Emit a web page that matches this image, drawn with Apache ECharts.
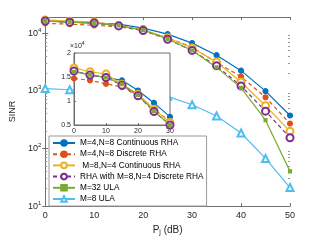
<!DOCTYPE html>
<html><head><meta charset="utf-8">
<script src="https://cdn.jsdelivr.net/npm/echarts@6/dist/echarts.min.js"></script>
<style>html,body{margin:0;padding:0;background:#fff}#c{width:321px;height:241px}</style>
</head><body><div id="c"></div>
<script>
var pj = [0, 5, 10, 15, 20, 25, 30, 35, 40, 45, 50];
var cont48 = [16250, 15400, 14900, 14300, 12200, 9600, 6700, 4140, 2230, 985, 373];
var disc48 = [14700, 14300, 13600, 12900, 11100, 8300, 5700, 3080, 1760, 771, 270];
var cont84 = [16900, 16100, 15600, 13500, 11400, 8300, 5500, 3160, 1420, 550, 198];
var disc84 = [16250, 15400, 14900, 13300, 11100, 7800, 5000, 2700, 1210, 443, 153];
var ula32 = [16100, 15500, 14900, 13500, 11250, 7900, 5000, 2540, 1120, 309, 40];
var ula8 = [1090, 1040, 1000, 950, 880, 800, 571, 365, 185, 67, 21];
var names = ['M=4,N=8 Continuous RHA', 'M=4,N=8 Discrete RHA', ' M=8,N=4 Continuous RHA',
  'RHA with M=8,N=4 Discrete RHA', 'M=32 ULA', 'M=8 ULA'];
var xTicks = [0, 10, 20, 30, 40, 50];
var insetXTicks = [0, 10, 20, 30];
var insetYTicks = [0.5, 1, 1.5, 2];

var seriesVals = [cont48, disc48, cont84, disc84, ula32, ula8];
var colors = ['#0072BD', '#D95319', '#EDB120', '#7E2F8E', '#77AC30', '#4DBEEE'];
var dashed = [false, true, false, true, false, false];
var symbols = ['circle', 'circle', 'emptyCircle', 'emptyCircle', 'rect', 'emptyTriangle'];
var sizes = [5, 5, 7, 7, 3, 7];
var axisCol = '#6f6f6f', txtCol = '#262626';
var FONT = 'Liberation Sans, Arial, sans-serif';

var minor = [];
for (var n = 1; n <= 4; n++) for (var k = 2; k <= 9; k++) { var v = k * Math.pow(10, n); if (v < 19000) minor.push(v); }

function mk(i, xi, yi, data, z) {
  return {
    name: names[i], type: 'line', xAxisIndex: xi, yAxisIndex: yi, z: z,
    data: data, symbol: symbols[i], symbolSize: sizes[i], animation: false,
    lineStyle: { color: colors[i], width: 1.2, type: dashed[i] ? [4, 3] : 'solid' },
    itemStyle: { color: colors[i], borderColor: colors[i], borderWidth: 1.1 }
  };
}
var series = [];
seriesVals.forEach(function (vals, i) {
  series.push(mk(i, 0, 0, pj.map(function (x, j) { return [x, vals[j]]; }), 2));
});
seriesVals.slice(0, 5).forEach(function (vals, i) {
  series.push(mk(i, 2, 4, pj.slice(0, 7).map(function (x, j) { return [x, vals[j]]; }), 12));
});

function logFmt(v) {
  var l = Math.log10(v), e = Math.round(l);
  if (Math.abs(l - e) > 1e-6) return '';
  return '10{s|' + e + '}';
}
var tickBase = { inside: true, length: 3, lineStyle: { color: axisCol } };
var minorTick = { inside: true, length: 2, customValues: minor, lineStyle: { color: '#999' } };
var lineBase = { show: true, lineStyle: { color: axisCol, width: 1 } };
var lab = { color: txtCol, fontSize: 9, fontFamily: FONT };

var option = {
  animation: false,
  grid: [
    { left: 41, right: 31, top: 17, bottom: 30, show: false },
    { left: 74, top: 53, width: 96, height: 72, show: true, backgroundColor: '#fff', borderColor: axisCol, borderWidth: 1, z: 10 }
  ],
  xAxis: [
    { type: 'value', gridIndex: 0, min: 0, max: 50, interval: 10, position: 'bottom',
      axisLine: lineBase, axisTick: tickBase, splitLine: { show: false },
      axisLabel: Object.assign({ margin: 5, customValues: xTicks }, lab),
      name: 'P{sub|j} (dB)', nameLocation: 'middle', nameGap: 16,
      nameTextStyle: { color: txtCol, fontSize: 10, fontFamily: FONT,
        rich: { sub: { fontSize: 7, verticalAlign: 'bottom', padding: [5, 0, 0, 0] } } } },
    { type: 'value', gridIndex: 0, min: 0, max: 50, interval: 10, position: 'top',
      axisLine: lineBase, axisTick: tickBase, axisLabel: { show: false }, splitLine: { show: false } },
    { type: 'value', gridIndex: 1, min: 0, max: 30, interval: 10, z: 11,
      axisLine: lineBase, axisTick: { inside: true, length: 2, lineStyle: { color: axisCol } }, splitLine: { show: false },
      axisLabel: { color: txtCol, fontSize: 7, margin: 3, customValues: insetXTicks, fontFamily: FONT } }
  ],
  yAxis: [
    { type: 'log', gridIndex: 0, min: 10, max: 19000, logBase: 10, position: 'left',
      axisLine: lineBase, axisTick: tickBase, splitLine: { show: false }, minorSplitLine: { show: false },
      axisLabel: Object.assign({ margin: 4, formatter: logFmt,
        rich: { s: { fontSize: 6, verticalAlign: 'top', padding: [0, 0, 6, 0], color: txtCol } } }, lab),
      name: 'SINR', nameLocation: 'middle', nameGap: 19,
      nameTextStyle: { color: txtCol, fontSize: 9, fontFamily: FONT } },
    { type: 'log', gridIndex: 0, min: 10, max: 19000, logBase: 10, position: 'right',
      axisLine: lineBase, axisTick: tickBase, splitLine: { show: false }, axisLabel: { show: false } },
    { type: 'log', gridIndex: 0, min: 10, max: 19000, logBase: 10, position: 'left', offset: 0,
      axisLine: { show: false }, splitLine: { show: false }, axisLabel: { show: false }, axisTick: minorTick },
    { type: 'log', gridIndex: 0, min: 10, max: 19000, logBase: 10, position: 'right', offset: 0,
      axisLine: { show: false }, splitLine: { show: false }, axisLabel: { show: false }, axisTick: minorTick },
    { type: 'value', gridIndex: 1, min: 5000, max: 20000, interval: 5000, z: 11,
      axisLine: lineBase, axisTick: { inside: true, length: 2, lineStyle: { color: axisCol } }, splitLine: { show: false },
      axisLabel: { color: txtCol, fontSize: 7, margin: 3, fontFamily: FONT,
        formatter: function (v) { return String(v / 10000); } },
      name: '\u00d710{s|4}', nameLocation: 'end', nameGap: 1,
      nameTextStyle: { color: txtCol, fontSize: 7, align: 'left', padding: [0, 0, 0, -4], fontFamily: FONT,
        rich: { s: { fontSize: 5, verticalAlign: 'top', padding: [0, 0, 4, 0], color: txtCol } } } }
  ],
  legend: {
    data: names, orient: 'vertical', left: 49, top: 136, itemWidth: 22, itemHeight: 7, itemGap: 3.2,
    backgroundColor: '#fff', borderColor: '#9a9a9a', borderWidth: 1, borderRadius: 0, padding: [3, 3, 3, 3],
    textStyle: { color: '#000', fontSize: 8.3, fontFamily: FONT }, z: 20
  },
  series: series
};
var chart = echarts.init(document.getElementById('c'), null, { renderer: 'canvas' });
chart.setOption(option);
</script></body></html>
